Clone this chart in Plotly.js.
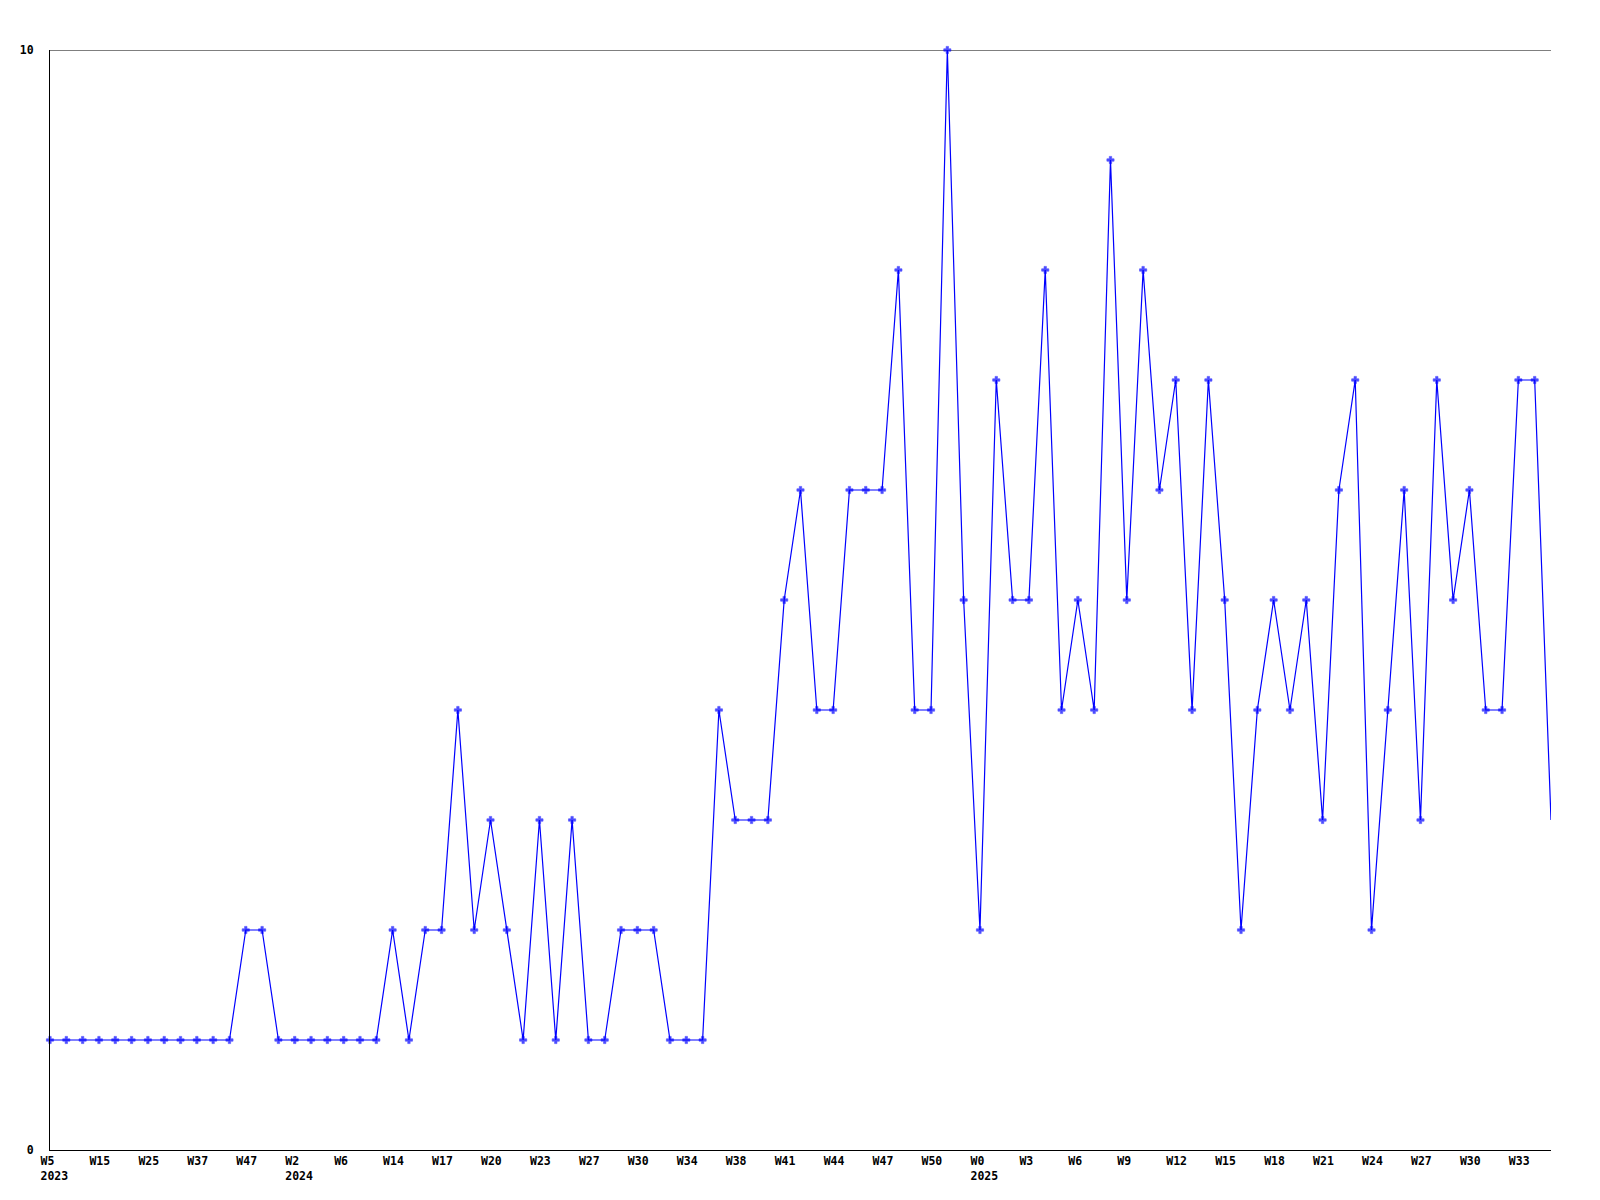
<!DOCTYPE html>
<html>
<head>
<meta charset="utf-8">
<script src="https://cdn.plot.ly/plotly-3.0.1.min.js"></script>
<style>html,body{margin:0;padding:0;background:#fff;}#chart{width:1600px;height:1200px;}</style>
</head>
<body>
<div id="chart"></div>
<script>
// Weekly counts, one per week present in the data (2023-W5 .. 2025-W35)
const counts = [
  1,1,1,1,1,1,1,1,1,1,1,1,
  2,2,
  1,1,1,1,1,1,1,
  2,1,2,2,4,2,3,2,1,3,1,3,1,1,2,2,2,1,1,1,
  4,3,3,3,5,6,4,4,6,6,
  6,8,4,4,10,5,2,7,5,5,
  8,4,5,4,9,5,8,6,7,4,
  7,5,2,4,5,4,5,3,6,7,
  2,4,6,3,7,5,6,4,4,7,
  7,3
];
// Labels shown on the x axis (every third week in the series)
const tickWeeks = ["W5","W15","W25","W37","W47","W2","W6","W14","W17","W20","W23","W27","W30","W34","W38","W41","W44","W47","W50","W0","W3","W6","W9","W12","W15","W18","W21","W24","W27","W30","W33"];
const tickYears = ["2023","","","","","2024","","","","","","","","","","","","","","2025","","","","","","","","","","",""];
const tickStep = 3;
const yTicks = [0, 10];

const xIdx = counts.map((_, i) => i);
const tickvals = tickWeeks.map((_, k) => k * tickStep);
const ticktext = tickWeeks.map((w, k) => tickYears[k] ? w + "<br>" + tickYears[k] : w);
const markerSizes = counts.map((_, i) => i === counts.length - 1 ? 0 : 6);

const font = {family: "DejaVu Sans Mono, monospace", size: 11.5, color: "#000", weight: "bold"};

Plotly.newPlot("chart", [{
  x: xIdx,
  y: counts,
  type: "scatter",
  mode: "lines+markers",
  cliponaxis: false,
  line: {color: "#0000ff", width: 1.2},
  marker: {symbol: "cross", size: markerSizes, color: "#0000ff", line: {width: 0.6, color: "#0000ff"}},
  hoverinfo: "y"
}], {
  width: 1600,
  height: 1200,
  paper_bgcolor: "#fff",
  plot_bgcolor: "#fff",
  showlegend: false,
  margin: {l: 50, r: 49, t: 50, b: 50, pad: 0},
  font: font,
  shapes: [{
    type: "line", xref: "paper", yref: "y",
    x0: 0, x1: 1, y0: yTicks[1], y1: yTicks[1],
    line: {color: "#000", width: 1}, layer: "below"
  }],
  xaxis: {
    range: [0, counts.length - 1],
    tickvals: tickvals,
    ticktext: ticktext,
    tickmode: "array",
    ticks: "",
    showgrid: false,
    zeroline: false,
    showline: true,
    linecolor: "#000",
    linewidth: 1,
    ticklabelposition: "outside right",
    ticklabelshift: -10,
    tickangle: 0,
    tickfont: font,
    fixedrange: true
  },
  yaxis: {
    range: [0, 10],
    tickvals: yTicks,
    ticktext: yTicks.map(String),
    tickmode: "array",
    ticks: "",
    showgrid: false,
    zeroline: false,
    showline: true,
    linecolor: "#000",
    linewidth: 1,
    ticklabelstandoff: 13,
    tickfont: font,
    fixedrange: true
  }
}, {staticPlot: true});
</script>
</body>
</html>
